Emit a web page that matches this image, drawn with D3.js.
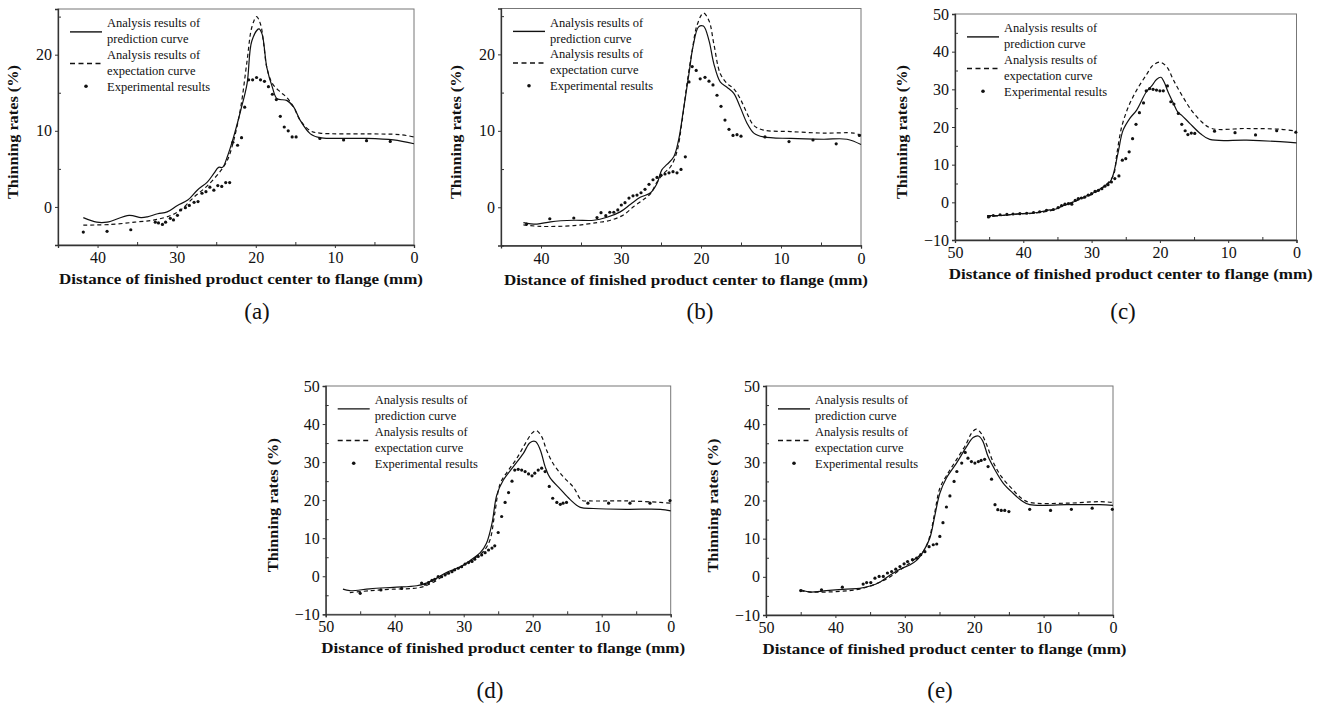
<!DOCTYPE html>
<html>
<head>
<meta charset="utf-8">
<script src="https://cdn.jsdelivr.net/npm/d3@7"></script>
<style>
  html, body { margin: 0; padding: 0; background: #fff; }
  svg { display: block; }
  text { font-family: "Liberation Serif", "Times New Roman", serif; fill: #111; }
</style>
</head>
<body>
<svg id="fig" width="1320" height="703"></svg>
<script>
// Thinning rate along the part, five forming cases (a)-(e).
// Each series is a list of [distance (mm), thinning rate (%)].

const legendLabels = ["Analysis results of", "prediction curve", "Analysis results of", "expectation curve", "Experimental results"];
const xTitle = "Distance of finished product center to flange (mm)";
const yTitle = "Thinning rates (%)";
const panelTags = ["(a)", "(b)", "(c)", "(d)", "(e)"];

// ---- case (a)
const aPrediction = [[41.8,-1.4],[40.1,-2.0],[38.8,-2.0],[36.0,-1.1],[34.5,-1.4],[33.7,-1.3],[32.4,-0.9],[31.2,-0.65],[29.9,0.2],[28.6,0.9],[27.4,2.2],[26.1,3.3],[25.3,4.4],[24.7,5.2],[24.2,5.2],[23.6,6.6],[22.8,9.2],[21.9,12.7],[21.1,16.2],[20.5,21.8],[19.6,23.4],[19.2,22.7],[18.6,18.3],[17.9,15.7],[17.3,14.2],[16.1,14.0],[15.2,13.1],[14.4,11.4],[13.1,9.6],[11.9,9.1],[10.2,9.0],[6.0,9.0],[2.6,8.8],[0,8.3]];
const aExpectation = [[41.8,-2.4],[38.3,-2.3],[35.3,-2.0],[32.8,-1.7],[30.7,-1.1],[29.5,-0.4],[27.8,1.3],[26.1,2.8],[24.4,4.8],[23.6,6.1],[22.8,8.7],[21.9,13.1],[21.1,19.2],[20.5,23.6],[19.9,25.0],[19.4,24.0],[19.0,21.4],[18.6,18.3],[17.9,16.2],[16.9,15.1],[16.1,14.4],[15.2,13.1],[14.4,11.4],[13.1,10.0],[11.9,9.7],[6.0,9.6],[1.8,9.5],[0,9.2]];
const aExperiment = [[41.8,-3.3],[38.8,-3.2],[35.8,-3.0],[32.7,-2.0],[32.3,-2.1],[31.8,-2.3],[31.4,-2.0],[30.8,-1.5],[30.4,-1.7],[29.9,-1.1],[29.5,-0.4],[28.9,-0.1],[28.4,0.2],[27.8,0.6],[27.3,0.7],[26.8,1.8],[26.3,2.0],[25.8,2.6],[25.3,2.2],[24.8,2.8],[24.3,2.7],[23.8,3.2],[23.3,3.2],[22.9,8.5],[22.3,8.1],[21.8,9.1],[21.4,13.1],[20.9,16.7],[20.4,16.7],[19.9,17.0],[19.4,16.7],[18.9,16.5],[18.4,15.8],[17.9,14.8],[17.4,14.1],[16.9,11.9],[16.4,10.5],[15.9,10.0],[15.4,9.2],[14.9,9.2],[11.9,9.0],[8.9,8.8],[6.0,8.7],[3.0,8.6]];

// ---- case (b)
const bPrediction = [[42.2,-2.0],[40.5,-2.2],[38.8,-1.9],[35.9,-1.7],[33.4,-1.7],[31.75,-1.3],[30.1,-0.6],[28.8,0.4],[27.6,1.3],[26.3,1.9],[25.5,3.1],[24.9,4.9],[24.25,5.6],[23.4,6.6],[22.8,8.8],[22.2,12.7],[21.5,17.5],[21.0,21.0],[20.3,23.6],[19.7,23.7],[19.0,21.8],[18.4,18.8],[17.6,16.4],[16.75,15.7],[15.9,14.9],[15.1,13.1],[14.25,11.0],[13.4,9.7],[12.2,9.2],[8.8,9.0],[4.7,8.9],[1.75,8.9],[0,8.2]];
const bExpectation = [[42.2,-2.3],[40.1,-2.5],[35.9,-2.4],[33.0,-2.0],[31.3,-1.7],[29.7,-1.0],[28.4,0.1],[27.2,1.0],[26.3,1.8],[25.5,3.3],[24.7,4.4],[23.8,5.3],[23.0,7.3],[22.4,11.0],[21.75,16.2],[21.1,20.5],[20.5,23.8],[19.7,25.4],[19.0,24.4],[18.4,21.4],[17.6,17.5],[16.75,16.2],[15.9,15.5],[15.1,14.2],[14.25,12.3],[13.4,10.7],[12.2,10.1],[8.8,9.9],[4.7,9.7],[0.9,9.7],[0,9.4]];
const bExperiment = [[41.8,-2.2],[38.9,-1.5],[35.9,-1.4],[33.0,-1.35],[32.5,-0.7],[31.9,-1.1],[31.4,-0.65],[30.9,-0.65],[30.4,-0.35],[29.96,0.3],[29.5,0.6],[29.0,1.2],[28.5,1.5],[28.0,1.6],[27.5,1.9],[27.0,2.35],[26.5,3.0],[26.0,3.6],[25.5,3.9],[25.0,4.2],[24.5,4.35],[24.0,4.5],[23.5,4.65],[23.0,4.5],[22.5,4.95],[21.96,6.6],[21.5,16.4],[21.1,18.4],[20.6,17.9],[20.1,16.8],[19.5,17.0],[19.0,16.5],[18.5,16.0],[18.0,14.65],[17.5,13.2],[17.0,11.4],[16.5,10.2],[16.0,9.4],[15.5,9.5],[15.0,9.3],[12.0,9.2],[9.0,8.6],[6.0,8.8],[3.1,8.3],[0.2,9.4]];

// ---- case (c)
const cPrediction = [[45.3,-3.5],[43.4,-3.5],[40.5,-3.0],[38.0,-2.7],[36.1,-2.0],[35.1,-1.7],[34.1,-0.8],[33.2,-0.35],[31.7,1.0],[29.75,2.5],[28.3,4.1],[27.3,5.4],[26.8,7.6],[26.1,13.4],[25.4,19.1],[24.4,22.3],[23.4,24.5],[22.0,29.3],[21.2,30.9],[20.5,32.6],[19.85,33.2],[19.4,32.0],[18.8,29.3],[18.0,26.2],[17.4,24.0],[16.8,23.1],[15.6,20.9],[14.1,18.3],[12.7,16.7],[7.3,16.5],[2.4,16.1],[0,15.8]];
const cExpectation = [[45.3,-3.9],[41.5,-3.2],[38.0,-2.8],[35.6,-2.0],[34.1,-0.8],[31.7,0.8],[29.75,2.3],[27.8,4.8],[26.8,7.2],[26.3,12.9],[25.6,20.0],[24.6,25.4],[23.4,29.8],[22.0,33.8],[21.0,36.4],[20.0,37.2],[19.0,36.0],[18.0,32.4],[16.8,28.5],[15.4,24.5],[13.9,21.4],[12.4,19.6],[7.3,19.6],[2.4,19.4],[0,18.9]];
const cExperiment = [[45.1,-3.9],[44.4,-3.5],[43.4,-3.3],[42.4,-3.2],[41.5,-3.1],[40.5,-3.0],[39.5,-2.9],[38.5,-2.7],[37.6,-2.5],[36.6,-2.1],[35.6,-1.9],[34.9,-1.4],[34.4,-0.9],[33.9,-0.5],[33.4,-0.35],[32.9,-0.5],[32.4,0.5],[31.95,1.0],[31.5,1.15],[31.0,1.4],[30.5,1.9],[30.0,2.3],[29.5,2.9],[29.0,3.2],[28.5,3.6],[28.05,4.3],[27.6,4.7],[27.1,5.4],[26.6,6.3],[26.0,7.0],[25.5,11.2],[25.0,11.6],[24.5,13.4],[24.0,16.9],[23.5,20.7],[23.0,23.8],[22.4,26.4],[22.0,29.6],[21.5,30.2],[21.0,30.0],[20.5,29.8],[20.0,29.6],[19.5,29.6],[18.9,30.9],[18.4,26.7],[17.95,26.1],[17.3,23.6],[16.8,20.7],[16.3,19.0],[15.9,18.0],[15.4,18.4],[14.9,18.3],[12.0,18.9],[9.0,18.5],[6.0,17.9],[2.9,19.0],[0.1,18.6]];

// ---- case (d)
const dPrediction = [[47.5,-3.4],[46.5,-3.8],[43.6,-3.3],[40.2,-2.9],[36.8,-2.5],[35.4,-1.8],[33.9,-0.5],[32.5,1.0],[30.5,2.5],[29.1,4.1],[27.6,6.2],[26.7,8.7],[25.9,13.9],[25.2,21.4],[24.25,25.3],[22.8,28.8],[21.35,32.3],[20.4,35.1],[19.6,35.4],[18.9,33.2],[18.2,28.8],[17.5,25.9],[16.0,22.9],[14.6,20.2],[13.1,18.1],[11.2,17.8],[6.4,17.6],[1.5,17.6],[0,17.2]];
const dExpectation = [[46.5,-4.3],[43.6,-3.8],[40.2,-3.4],[37.3,-3.2],[35.8,-2.7],[34.4,-1.6],[32.5,0.6],[30.5,2.4],[28.6,4.5],[27.15,6.5],[26.2,9.5],[25.5,16.5],[24.7,24.4],[23.5,27.9],[22.3,31.0],[21.1,34.8],[20.1,37.6],[19.5,38.3],[18.7,36.7],[18.0,33.2],[17.0,29.5],[15.6,26.2],[14.1,23.4],[12.9,20.0],[11.7,19.8],[6.4,19.8],[1.5,19.4],[0,19.2]];
const dExperiment = [[45.0,-4.5],[42.0,-3.6],[39.0,-3.2],[36.1,-1.8],[35.6,-2.1],[35.1,-1.7],[34.6,-1.1],[34.2,-0.8],[33.7,-0.1],[33.2,-0.1],[32.7,0.35],[32.2,0.8],[31.7,1.2],[31.3,1.7],[30.8,2.1],[30.3,2.5],[29.8,3.2],[29.3,3.6],[28.8,3.9],[28.4,4.5],[27.9,5.2],[27.4,5.6],[26.9,6.2],[26.4,6.9],[25.9,7.4],[25.5,8.0],[25.0,11.5],[24.5,15.7],[24.0,19.4],[23.5,22.0],[23.0,25.0],[22.6,27.9],[22.1,28.1],[21.6,27.9],[21.1,27.5],[20.6,26.9],[20.1,26.4],[19.7,27.1],[19.2,27.9],[18.7,28.4],[18.2,27.5],[17.6,23.6],[17.1,20.5],[16.5,19.4],[16.0,18.9],[15.6,19.2],[15.1,19.4],[12.0,19.2],[9.0,19.2],[5.9,19.2],[3.0,19.2],[0.1,19.9]];

// ---- case (e)
const ePrediction = [[45.0,-3.4],[43.7,-4.0],[41.3,-3.6],[38.4,-3.2],[36.5,-3.0],[35.0,-2.4],[33.6,-1.4],[32.1,0.5],[30.7,2.0],[29.3,3.1],[28.3,4.3],[27.35,6.6],[26.4,10.1],[25.7,15.8],[24.95,21.9],[24.0,25.9],[22.55,29.8],[21.1,34.1],[20.15,36.5],[19.4,36.9],[18.8,35.7],[18.0,31.5],[17.0,28.0],[15.8,24.5],[14.4,21.9],[13.2,20.0],[12.0,18.9],[6.7,18.9],[1.9,18.9],[0,18.7]];
const eExpectation = [[45.0,-3.7],[43.2,-4.0],[39.3,-3.8],[36.5,-3.2],[34.5,-2.1],[32.6,-0.5],[30.7,1.8],[28.8,4.3],[27.35,6.6],[26.4,10.6],[25.7,16.7],[24.95,23.2],[24.0,26.5],[22.55,30.7],[21.1,35.0],[20.4,37.6],[19.7,38.7],[19.0,37.6],[18.2,34.6],[17.3,30.2],[16.1,26.3],[14.6,23.2],[13.2,20.6],[12.0,19.5],[6.7,19.3],[1.9,19.7],[0,19.5]];
const eExperiment = [[45.0,-3.6],[42.0,-3.4],[39.0,-2.7],[36.0,-1.9],[35.5,-1.5],[34.9,-1.5],[34.3,-0.35],[33.7,0.1],[33.1,0.1],[32.5,1.0],[31.9,1.4],[31.3,2.0],[30.7,2.7],[30.1,3.4],[29.6,4.0],[28.9,4.5],[28.3,4.9],[27.7,5.8],[27.1,6.6],[26.5,7.9],[25.9,8.4],[25.4,8.6],[24.95,10.6],[24.5,14.2],[24.0,18.3],[23.5,21.2],[22.9,25.0],[22.5,27.6],[21.8,29.8],[21.3,32.6],[20.9,31.1],[20.4,30.2],[19.9,29.8],[19.4,30.2],[19.0,30.5],[18.5,30.8],[18.0,28.9],[17.5,25.6],[17.0,18.9],[16.6,17.6],[16.1,17.4],[15.6,17.4],[15.0,17.1],[12.0,17.7],[9.0,17.4],[6.0,17.7],[3.0,18.0],[0.1,17.7]];

// axis ticks
const xTicksShort = [40, 30, 20, 10, 0];
const xMinorShort = [45, 35, 25, 15, 5];
const yTicksShort = [0, 10, 20];
const yMinorShort = [-5, 5, 15, 25];
const xTicksLong = [50, 40, 30, 20, 10, 0];
const xMinorLong = [45, 35, 25, 15, 5];
const yTicksLong = [-10, 0, 10, 20, 30, 40, 50];
const yMinorLong = [-5, 5, 15, 25, 35, 45];

// panel frames (pixel boxes) and domains
const panels = [
  { tag: panelTags[0], box: [58, 9, 414, 245], xDom: [45, 0], yDom: [-5, 26], xT: xTicksShort, xM: xMinorShort, yT: yTicksShort, yM: yMinorShort,
    pred: aPrediction, expc: aExpectation, test: aExperiment, tagPos: [257, 311] },
  { tag: panelTags[1], box: [501, 8.5, 861, 245.5], xDom: [45, 0], yDom: [-5, 26], xT: xTicksShort, xM: xMinorShort, yT: yTicksShort, yM: yMinorShort,
    pred: bPrediction, expc: bExpectation, test: bExperiment, tagPos: [700, 311] },
  { tag: panelTags[2], box: [955, 14, 1296.5, 240], xDom: [50, 0], yDom: [-10, 50], xT: xTicksLong, xM: xMinorLong, yT: yTicksLong, yM: yMinorLong,
    pred: cPrediction, expc: cExpectation, test: cExperiment, tagPos: [1123, 311] },
  { tag: panelTags[3], box: [325.7, 386, 670.7, 614.3], xDom: [50, 0], yDom: [-10, 50], xT: xTicksLong, xM: xMinorLong, yT: yTicksLong, yM: yMinorLong,
    pred: dPrediction, expc: dExpectation, test: dExperiment, tagPos: [490, 690] },
  { tag: panelTags[4], box: [766, 386, 1113, 615], xDom: [50, 0], yDom: [-10, 50], xT: xTicksLong, xM: xMinorLong, yT: yTicksLong, yM: yMinorLong,
    pred: ePrediction, expc: eExpectation, test: eExperiment, tagPos: [940, 690] }
];

const svg = d3.select("#fig");
const axisColor = "#333";

panels.forEach(p => {
  const [x0, y0, x1, y1] = p.box;
  const x = d3.scaleLinear().domain(p.xDom).range([x0, x1]);
  const y = d3.scaleLinear().domain(p.yDom).range([y1, y0]);
  const g = svg.append("g");

  // frame
  g.append("rect").attr("x", x0).attr("y", y0).attr("width", x1 - x0).attr("height", y1 - y0)
    .attr("fill", "none").attr("stroke", "#777").attr("stroke-width", 1);

  // bottom axis: major ticks outward, minor ticks inward
  const xa = g.append("g").attr("transform", `translate(0,${y1})`)
    .call(d3.axisBottom(x).tickValues(p.xT).tickSize(3).tickPadding(3).tickFormat(d3.format("d")));
  xa.select(".domain").attr("stroke", axisColor).attr("stroke-width", 1.3);
  xa.selectAll(".tick line").attr("stroke", axisColor);
  xa.selectAll("text").attr("font-size", 16).attr("font-family", "Liberation Serif").attr("fill", "#111").attr("dy", "0.75em");
  g.append("g").attr("transform", `translate(0,${y1})`)
    .call(d3.axisTop(x).tickValues(p.xM).tickSize(3).tickFormat(""))
    .call(s => s.select(".domain").remove())
    .selectAll(".tick line").attr("stroke", axisColor);

  // left axis
  const ya = g.append("g").attr("transform", `translate(${x0},0)`)
    .call(d3.axisLeft(y).tickValues(p.yT).tickSize(3).tickPadding(3).tickFormat(d3.format("d")));
  ya.select(".domain").attr("stroke", axisColor).attr("stroke-width", 1.3);
  ya.selectAll(".tick line").attr("stroke", axisColor);
  ya.selectAll("text").attr("font-size", 16).attr("font-family", "Liberation Serif").attr("fill", "#111");
  g.append("g").attr("transform", `translate(${x0},0)`)
    .call(d3.axisRight(y).tickValues(p.yM).tickSize(3).tickFormat(""))
    .call(s => s.select(".domain").remove())
    .selectAll(".tick line").attr("stroke", axisColor);

  // axis titles
  const cx = (x0 + x1) / 2 + 5;
  g.append("text").attr("x", cx).attr("y", y1 + 39).attr("text-anchor", "middle")
    .attr("font-size", 14.5).attr("font-weight", "bold")
    .attr("textLength", 364).attr("lengthAdjust", "spacingAndGlyphs").text(xTitle);
  const cy = (y0 + y1) / 2 + 5;
  g.append("text").attr("transform", `translate(${x0 - 40 - (p.yDom[1] > 30 ? 8 : 0)},${cy}) rotate(-90)`)
    .attr("text-anchor", "middle").attr("font-size", 14.5).attr("font-weight", "bold")
    .attr("textLength", 134).attr("lengthAdjust", "spacingAndGlyphs").text(yTitle);

  // curves
  const line = d3.line().x(d => x(d[0])).y(d => y(d[1])).curve(d3.curveCatmullRom.alpha(0.5));
  g.append("path").datum(p.pred).attr("d", line).attr("fill", "none")
    .attr("stroke", "#111").attr("stroke-width", 1.2);
  g.append("path").datum(p.expc).attr("d", line).attr("fill", "none")
    .attr("stroke", "#111").attr("stroke-width", 1.2).attr("stroke-dasharray", "4,3");
  g.selectAll("circle.test").data(p.test).enter().append("circle").attr("class", "test")
    .attr("cx", d => x(d[0])).attr("cy", d => y(d[1])).attr("r", 1.6).attr("fill", "#111");

  // legend
  const lx = x0 + 12, tx = x0 + 49, ly = y0 + 14, step = 15.8;
  const lg = g.append("g");
  legendLabels.forEach((t, i) => {
    lg.append("text").attr("x", tx).attr("y", ly + i * step).attr("dy", "0.35em")
      .attr("font-size", 12.5).text(t);
  });
  lg.append("line").attr("x1", lx).attr("x2", lx + 32).attr("y1", ly + step * 0.5 + 1).attr("y2", ly + step * 0.5 + 1)
    .attr("stroke", "#111").attr("stroke-width", 1.4);
  lg.append("line").attr("x1", lx).attr("x2", lx + 32).attr("y1", ly + step * 2.5 + 1).attr("y2", ly + step * 2.5 + 1)
    .attr("stroke", "#111").attr("stroke-width", 1.4).attr("stroke-dasharray", "5,3.5");
  lg.append("circle").attr("cx", lx + 16).attr("cy", ly + step * 4).attr("r", 1.8).attr("fill", "#111");

  // panel caption
  svg.append("text").attr("x", p.tagPos[0]).attr("y", p.tagPos[1]).attr("dy", "0.35em")
    .attr("text-anchor", "middle").attr("font-size", 23).text(p.tag);
});
</script>
</body>
</html>
